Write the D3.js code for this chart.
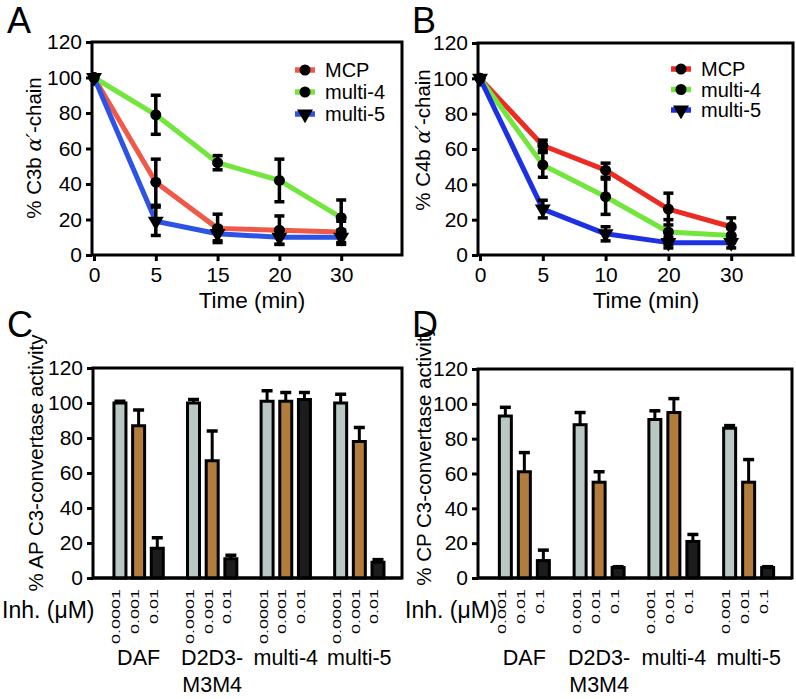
<!DOCTYPE html>
<html><head><meta charset="utf-8">
<script src="https://cdn.jsdelivr.net/npm/d3@7"></script>
<style>
body{margin:0;background:#fff;}
svg{display:block;font-family:"Liberation Sans",Arial,Helvetica,sans-serif;}
</style></head><body>
<svg id="fig" width="796" height="699"></svg>
<script>
// ---------- data ----------
const timeLabelsA = ["0","5","15","20","30"];
const timeLabelsB = ["0","5","10","20","30"];
const seriesNames = ["MCP","multi-4","multi-5"];
const yTicks = [0,20,40,60,80,100,120];

// Panel A: % C3b alpha'-chain
const c3bMCP = [100,41,15,14,13];
const c3bMCPErr = [0,13,8,8,6];
const c3bMulti4 = [100,79,52,42,21];
const c3bMulti4Err = [0,11,4,12,10];
const c3bMulti5 = [100,19,12,10,10];
const c3bMulti5Err = [0,8,4,4,4];

// Panel B: % C4b alpha'-chain
const c4bMCP = [100,62,48,26,16];
const c4bMCPErr = [0,3,4,9,5];
const c4bMulti4 = [100,51,33,13,11];
const c4bMulti4Err = [0,7,10,7,4];
const c4bMulti5 = [100,26,12,7,7];
const c4bMulti5Err = [0,5,4,3,3];

// Panels C/D
const inhibitors = ["DAF","D2D3-M3M4","multi-4","multi-5"];
const inhibitorLabels = [["DAF"],["D2D3-","M3M4"],["multi-4"],["multi-5"]];
const apConc = ["0.0001","0.001","0.01"];
const cpConc = ["0.001","0.01","0.1"];
const apValues = [[100,87,17],[100,67,11],[101,101,102],[100,78,9]];
const apErr    = [[1,9,6],[2,17,2],[6,5,4],[5,8,1.5]];
const cpValues = [[93,61,10],[88,55,6],[91,95,21],[86,55,6]];
const cpErr    = [[5,11,6],[7,6,0.5],[5,8,4],[1.5,13,0.5]];

// ---------- drawing ----------
const svg = d3.select("#fig");
const FONT = "Liberation Sans, Arial, sans-serif";

function styleAxis(sel){
  sel.attr("font-family",FONT);
  sel.select(".domain").remove();
  sel.selectAll(".tick line").attr("stroke","#000").attr("stroke-width",3);
  sel.selectAll(".tick text").attr("fill","#000").style("font-size","21px").style("font-family",FONT);
}

function yTitle(x, yc, parts){
  const t = svg.append("text")
    .attr("transform",`translate(${x},${yc}) rotate(-90)`)
    .attr("text-anchor","middle")
    .style("font-size","20.5px").attr("fill","#000");
  parts.forEach(p=>{
    const ts = t.append("tspan").text(p.t);
    if(p.italic) ts.style("font-style","italic").style("font-family","DejaVu Serif, serif");
  });
}

function linePanel(o){
  const g = svg.append("g");
  const x = d3.scaleLinear().domain([0,5]).range([o.left+2, o.right+1]);
  const y = d3.scaleLinear().domain([0,120]).range([o.bottom, o.top]);
  g.append("rect").attr("x",o.left).attr("y",o.top)
    .attr("width",o.right-o.left).attr("height",o.bottom-o.top)
    .attr("fill","none").attr("stroke","#000").attr("stroke-width",3);
  g.append("g").attr("transform",`translate(${o.left},0)`)
    .call(d3.axisLeft(y).tickValues(yTicks).tickSize(6).tickSizeOuter(0).tickPadding(4))
    .call(styleAxis);
  g.append("g").attr("transform",`translate(0,${o.bottom})`)
    .call(d3.axisBottom(x).tickValues([0,1,2,3,4]).tickFormat(i=>o.labels[i]).tickSize(6).tickSizeOuter(0).tickPadding(6))
    .call(styleAxis);

  const line = d3.line().x((d,i)=>x(i)).y(d=>y(d));
  o.series.forEach(s=>{
    g.append("path").attr("d",line(s.values)).attr("fill","none")
      .attr("stroke",s.color).attr("stroke-width",5).attr("stroke-linejoin","round");
  });
  o.series.forEach(s=>{
    s.values.forEach((v,i)=>{
      const e = s.err[i]; if(!e) return;
      const cx = x(i);
      g.append("line").attr("x1",cx).attr("x2",cx).attr("y1",y(v-e)).attr("y2",y(v+e))
        .attr("stroke","#000").attr("stroke-width",3.5);
      [v-e, v+e].forEach(w=>{
        g.append("line").attr("x1",cx-5).attr("x2",cx+5).attr("y1",y(w)).attr("y2",y(w))
          .attr("stroke","#000").attr("stroke-width",3.5);
      });
    });
  });
  const circ = d3.symbol(d3.symbolCircle, 95)();
  const tri = d3.symbol(d3.symbolTriangle, 110)();
  o.series.forEach(s=>{
    s.values.forEach((v,i)=>{
      g.append("path").attr("d", s.tri ? tri : circ)
        .attr("transform",`translate(${x(i)},${y(v)})${s.tri?" rotate(180)":""}`)
        .attr("fill","#000");
    });
  });
  // legend
  o.series.forEach((s,k)=>{
    const ly = o.legY + k*o.legStep;
    g.append("line").attr("x1",o.legX).attr("x2",o.legX+20).attr("y1",ly).attr("y2",ly)
      .attr("stroke",s.color).attr("stroke-width",5.5);
    g.append("path").attr("d", s.tri ? tri : circ)
      .attr("transform",`translate(${o.legX+10},${ly})${s.tri?" rotate(180)":""}`).attr("fill","#000");
    g.append("text").attr("x",o.legX+30).attr("y",ly).attr("dy","0.36em")
      .style("font-size","20px").attr("fill","#000").text(s.name);
  });
  g.append("text").attr("x",o.titleX).attr("y",o.bottom+53).attr("text-anchor","middle")
    .style("font-size","22.5px").attr("fill","#000").text("Time (min)");
}

function barPanel(o){
  const g = svg.append("g");
  const y = d3.scaleLinear().domain([0,120]).range([o.bottom, o.top]);
  const x0 = d3.scaleBand().domain(inhibitors).range([o.left,o.right]).paddingOuter(0.1).align(0.6);
  const x1 = d3.scaleBand().domain(o.conc).range([-o.inner, o.inner]);
  const colors = ["#b9c8c4","#b27c3c","#1c1c1c"];
  g.append("rect").attr("x",o.left).attr("y",o.top)
    .attr("width",o.right-o.left).attr("height",o.bottom-o.top)
    .attr("fill","none").attr("stroke","#000").attr("stroke-width",3);
  g.append("g").attr("transform",`translate(${o.left},0)`)
    .call(d3.axisLeft(y).tickValues(yTicks).tickSize(6).tickSizeOuter(0).tickPadding(4))
    .call(styleAxis);
  inhibitors.forEach((inh,gi)=>{
    const gc = x0(inh)+x0.bandwidth()/2;
    o.conc.forEach((c,ci)=>{
      const cx = gc + x1(c) + x1.bandwidth()/2;
      const v = o.values[gi][ci], e = o.err[gi][ci];
      g.append("line").attr("x1",cx).attr("x2",cx).attr("y1",y(v)).attr("y2",y(v+e))
        .attr("stroke","#000").attr("stroke-width",3);
      g.append("line").attr("x1",cx-5.5).attr("x2",cx+5.5).attr("y1",y(v+e)).attr("y2",y(v+e))
        .attr("stroke","#000").attr("stroke-width",3.5);
      g.append("rect").attr("x",cx-6).attr("width",12).attr("y",y(v)).attr("height",y(0)-y(v))
        .attr("fill",colors[ci]).attr("stroke","#000").attr("stroke-width",3);
      g.append("text")
        .attr("transform",`translate(${cx+0.5},${o.bottom+11}) rotate(-90) scale(1,0.6)`)
        .attr("text-anchor","end").style("font-size","18px").attr("fill","#000").text(c);
    });
    const t = g.append("text").attr("text-anchor","middle").style("font-size","21.5px").attr("fill","#000");
    inhibitorLabels[gi].forEach((ln,li)=>{
      t.append("tspan").attr("x",gc).attr("y",665+li*27).text(ln);
    });
  });
  g.append("line").attr("x1",o.left).attr("x2",o.right).attr("y1",o.bottom).attr("y2",o.bottom)
    .attr("stroke","#000").attr("stroke-width",3);
  g.append("text").attr("x",o.inhX).attr("y",618).style("font-size","23px").attr("fill","#000").text("Inh. (μM)");
}

const red = ["#f05848","#ec2b22"], green = "#72e63c", blue = ["#2c52e6","#1e30e4"];

linePanel({left:92,right:402,top:42,bottom:255,labels:timeLabelsA,legX:295,legY:70,legStep:22,titleX:252,
  series:[
    {name:seriesNames[0],values:c3bMCP,err:c3bMCPErr,color:red[0]},
    {name:seriesNames[1],values:c3bMulti4,err:c3bMulti4Err,color:green},
    {name:seriesNames[2],values:c3bMulti5,err:c3bMulti5Err,color:blue[0],tri:true}
  ]});
linePanel({left:478,right:793,top:43,bottom:255,labels:timeLabelsB,legX:671,legY:69,legStep:20.5,titleX:646,
  series:[
    {name:seriesNames[0],values:c4bMCP,err:c4bMCPErr,color:red[1]},
    {name:seriesNames[1],values:c4bMulti4,err:c4bMulti4Err,color:green},
    {name:seriesNames[2],values:c4bMulti5,err:c4bMulti5Err,color:blue[1],tri:true}
  ]});
barPanel({left:93,right:402,top:368,bottom:578,conc:apConc,values:apValues,err:apErr,inner:28,inhX:2});
barPanel({left:478,right:792,top:369,bottom:578,conc:cpConc,values:cpValues,err:cpErr,inner:28.5,inhX:405});

yTitle(41,148,[{t:"% C3b "},{t:"α′",italic:true},{t:"-chain"}]);
yTitle(430,140,[{t:"% C4b "},{t:"α′",italic:true},{t:"-chain"}]);
yTitle(43,463,[{t:"% AP C3-convertase activity"}]);
yTitle(431,456,[{t:"% CP C3-convertase activity"}]);

[["A",7,33],["B",412,33],["C",7,337],["D",412,337]].forEach(([l,x,yy])=>{
  svg.append("text").attr("x",x).attr("y",yy).style("font-size","36px").attr("fill","#000").text(l);
});
</script>
</body></html>
